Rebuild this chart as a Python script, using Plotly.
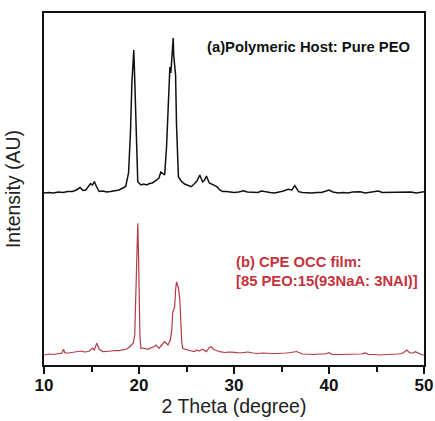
import plotly.graph_objects as go

# ---- data (2 theta in degrees, intensity in arbitrary units) ----
theta_peo = [10.0, 10.5, 11.0, 11.5, 12.0, 12.5, 13.0, 13.4, 13.8, 14.1, 14.4, 14.7, 14.9, 15.1, 15.3, 15.5,
             15.8, 16.2, 16.6, 17.0, 17.5, 17.9, 18.3, 18.6, 18.9, 19.1, 19.25, 19.38, 19.45, 19.52, 19.6,
             19.7, 19.87, 20.0, 20.2, 20.5, 20.8, 21.1, 21.4, 21.8, 22.1, 22.3, 22.5, 22.7, 22.9, 23.0, 23.15,
             23.25, 23.35, 23.45, 23.55, 23.6, 23.65, 23.75, 23.85, 23.95, 24.05, 24.15, 24.3, 24.5, 24.8,
             25.1, 25.5, 25.8, 26.1, 26.4, 26.7, 26.9, 27.1, 27.4, 27.8, 28.0, 28.2, 28.5, 28.8, 29.2, 29.6,
             30.0, 30.5, 31.0, 31.4, 32.0, 32.5, 32.9, 33.3, 33.8, 34.3, 34.8, 35.2, 35.7, 36.1, 36.4, 36.8,
             37.2, 37.7, 38.2, 38.7, 39.2, 39.7, 40.0, 40.4, 41.0, 41.5, 42.0, 42.5, 43.0, 43.3, 43.8, 44.3,
             44.8, 45.2, 45.6, 46.2, 46.8, 47.4, 48.0, 48.6, 49.2, 49.6, 49.8, 50.0]
int_peo = [172, 172.5, 172, 173, 172.5, 173.5, 173.5, 175, 177.5, 174.5, 175, 179.5, 181.5, 180, 183.5, 179,
           173.5, 174, 173, 173.5, 174, 175, 177, 178.5, 192, 232, 282, 312, 315, 295, 270,
           225, 183.3, 182, 180, 181, 180, 181.5, 182, 184.5, 187, 193, 191, 190, 218, 245, 275,
           298, 292, 310, 325, 327, 310, 300, 290, 240, 200, 188, 186, 183.3, 181,
           180, 178.3, 181, 184, 190, 183, 185, 189, 182, 180, 179.5, 178.3, 175, 173.5, 173.5, 173,
           172.5, 173, 174.3, 173, 172.5, 172.5, 174, 173, 172.5, 172, 173, 174, 175.7, 175, 179.3, 173.3,
           172.5, 172, 172, 172.5, 172.5, 174, 175, 173, 172, 172.5, 172, 173, 173, 173.3, 172, 172.5,
           173, 174, 172.5, 172.5, 173, 172.5, 172.5, 173, 172, 172.5, 172.7, 173.3]

theta_cpe = [10.0, 10.5, 11.0, 11.5, 11.9, 12.05, 12.2, 12.6, 13.0, 13.5, 13.9, 14.1, 14.4, 14.8, 15.1, 15.3,
             15.55, 15.8, 16.2, 16.6, 17.0, 17.5, 17.9, 18.3, 18.7, 19.0, 19.2, 19.4, 19.55, 19.7, 19.8,
             19.87, 19.94, 20.0, 20.1, 20.2, 20.5, 20.9, 21.3, 21.6, 21.8, 22.1, 22.4, 22.7, 23.05, 23.3,
             23.45, 23.55, 23.65, 23.75, 23.85, 23.95, 24.05, 24.15, 24.3, 24.4, 24.5, 24.6, 24.9, 25.3,
             25.8, 26.1, 26.3, 26.7, 27.1, 27.35, 27.6, 27.8, 28.0, 28.5, 29.0, 29.5, 30.1, 30.6, 31.0,
             31.5, 32.0, 32.5, 33.0, 33.5, 34.0, 34.5, 35.0, 35.5, 36.0, 36.6, 37.2, 37.8, 38.4, 39.0,
             39.6, 40.0, 40.3, 41.0, 41.6, 42.2, 42.8, 43.4, 43.8, 44.2, 44.8, 45.4, 46.0, 46.6, 47.2,
             47.7, 48.0, 48.2, 48.5, 48.8, 49.1, 49.4, 49.7, 50.0]
int_cpe = [10, 11, 10.5, 11.5, 12, 15.7, 12, 12, 12.5, 13, 14, 13.3, 13, 14, 17, 15,
           21.7, 16, 13.3, 13.5, 14, 14.5, 14.3, 15, 16, 18, 20, 22, 30, 75, 120,
           141.7, 115, 75, 28.3, 16.7, 17, 15.7, 17, 18.5, 20, 16.7, 20, 23.3, 20, 25,
           35, 53, 55, 58.3, 75, 83.3, 80, 77, 65, 40, 23, 16.7, 15.5, 14.5,
           13.3, 15, 14, 15.7, 13.3, 17, 18.3, 16, 15, 13.3, 12.5, 13, 12.7, 12, 12.5,
           13, 12, 11.5, 12, 11.5, 11.5, 11.5, 11.5, 12, 12.5, 13.5, 11, 10.5, 10.5, 11,
           11, 12.3, 10.5, 10.5, 10.5, 11, 10.5, 11, 12, 10.5, 10.5, 10, 10.5, 10.5, 11,
           11.5, 13.5, 15, 12, 12, 13.3, 11.5, 10.5, 10]

x_tickvals = [10, 20, 30, 40, 50]
x_ticklabels = ["10", "20", "30", "40", "50"]
label_a = "(a)Polymeric Host: Pure PEO"
label_b = "(b) CPE OCC film:<br>[85 PEO:15(93NaA: 3NAI)]"

RED = "#c4333b"

W, H = 435, 421
ml, mr, mt, mb = 44, 11, 13, 56
pw, ph = W - ml - mr, H - mt - mb


def px_to_paper(px, py):
    return (px - ml) / pw, 1 - (py - mt) / ph


fig = go.Figure()
fig.add_trace(go.Scatter(x=theta_peo, y=int_peo, mode="lines",
                         line=dict(color="#111111", width=1.5), showlegend=False))
fig.add_trace(go.Scatter(x=theta_cpe, y=int_cpe, mode="lines",
                         line=dict(color="#b23a44", width=1.2), showlegend=False))

ax, ay = px_to_paper(412, 46.5)
fig.add_annotation(x=ax, y=ay, xref="paper", yref="paper", text=f"<b>{label_a}</b>",
                   showarrow=False, font=dict(family="Liberation Sans, Arial", size=14.8, color="#111111"),
                   xanchor="right", yanchor="middle")
bx, by = px_to_paper(234, 271)
fig.add_annotation(x=bx, y=by, xref="paper", yref="paper", text=f"<b>{label_b}</b>",
                   showarrow=False, align="left",
                   font=dict(family="Liberation Sans, Arial", size=14.8, color=RED),
                   xanchor="left", yanchor="middle")

fig.update_layout(
    width=W, height=H,
    margin=dict(l=ml, r=mr, t=mt, b=mb, autoexpand=False),
    paper_bgcolor="white", plot_bgcolor="white",
    font=dict(family="Liberation Sans, Arial", color="#111111"),
    xaxis=dict(range=[10, 50], tickvals=x_tickvals, ticktext=[f"<b>{t}</b>" for t in x_ticklabels],
               ticks="outside", ticklen=7, tickwidth=1.5, tickcolor="#111111",
               minor=dict(dtick=5, tick0=15, ticks="outside", ticklen=5, tickwidth=1.5, tickcolor="#111111"),
               showline=True, linecolor="#111111", linewidth=1.5, mirror=True,
               showgrid=False, zeroline=False, automargin=False,
               ticklabeloverflow="allow", ticklabelstandoff=-3,
               tickfont=dict(size=17, color="#111111"),
               title=dict(text="2 Theta (degree)", font=dict(size=19.5, color="#222222"), standoff=0)),
    yaxis=dict(range=[0, 352], showticklabels=False, ticks="",
               showline=True, linecolor="#111111", linewidth=1.5, mirror=True,
               showgrid=False, zeroline=False, automargin=False,
               title=dict(text="Intensity (AU)", font=dict(size=19.5, color="#222222"), standoff=16)),
)

fig.write_html("out.html")
